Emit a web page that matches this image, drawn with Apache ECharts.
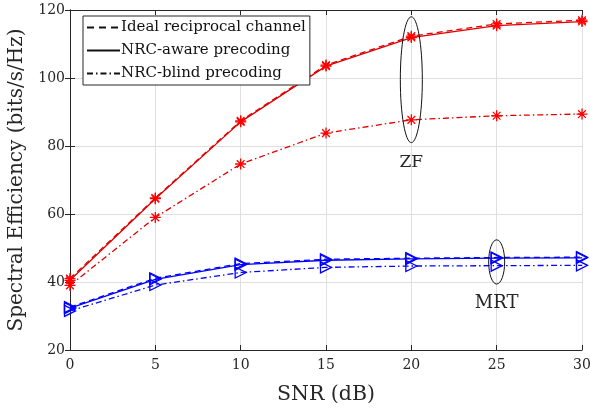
<!DOCTYPE html>
<html><head><meta charset="utf-8">
<script src="https://cdn.jsdelivr.net/npm/echarts@6/dist/echarts.min.js"></script>
<style>html,body{margin:0;padding:0;background:#fff}#c{width:590px;height:409px}</style>
</head><body><div id="c"></div>
<script>
const snr = [0, 5, 10, 15, 20, 25, 30];
const zfIdeal = [41.0, 64.7, 87.4, 103.8, 112.3, 115.9, 117.0];
const zfAware = [40.5, 64.5, 87.1, 103.5, 111.9, 115.4, 116.6];
const zfBlind = [39.0, 59.0, 74.7, 83.8, 87.7, 88.9, 89.4];
const mrtIdeal = [32.6, 41.1, 45.4, 46.7, 47.0, 47.2, 47.3];
const mrtAware = [32.3, 40.8, 45.1, 46.4, 46.8, 47.0, 47.1];
const mrtBlind = [31.5, 39.1, 42.8, 44.3, 44.7, 44.8, 44.9];
const xTicks = [0, 5, 10, 15, 20, 25, 30];
const yTicks = [20, 40, 60, 80, 100, 120];
const legendNames = ['Ideal reciprocal channel', 'NRC-aware precoding', 'NRC-blind precoding'];

const FONT = '"DejaVu Serif", "Liberation Serif", serif';
const RED = '#ff0000', REDL = '#e00000', BLUE = '#0000ff';
const DASH = [6, 4];
const DASHDOT = [6, 3, 1.5, 3];
const star = 'path://M0,-5L0,5M-5,0L5,0M-3.5,-3.5L3.5,3.5M-3.5,3.5L3.5,-3.5';
const tri = 'path://M0,0L9,5L0,10Z';

function pairs(ys) { return snr.map((x, i) => [x, ys[i]]); }
function mk(name, ys, col, lcol, type, sym, size) {
  return {
    type: 'line', name: name, data: pairs(ys), symbol: sym, symbolSize: size,
    showSymbol: true, silent: true, animation: false,
    lineStyle: { color: lcol, width: 1.3, type: type },
    itemStyle: { color: 'none', borderColor: col, borderWidth: 1.3 },
    z: 3
  };
}

const chart = echarts.init(document.getElementById('c'), null, { renderer: 'canvas' });
const axCommon = {
  axisLine: { show: true, lineStyle: { color: '#262626', width: 1 } },
  axisTick: { show: true, inside: true, length: 5, lineStyle: { color: '#262626' } },
};
chart.setOption({
  animation: false,
  backgroundColor: '#fff',
  grid: { left: 70, right: 8, top: 10, bottom: 59, containLabel: false, outerBoundsMode: 'none' },
  legend: {
    data: legendNames.map(n => ({ name: n, itemStyle: { opacity: 0 } })),
    orient: 'vertical', left: 83, top: 16,
    itemWidth: 33, itemHeight: 12, itemGap: 8,
    padding: [4, 4, 4, 3],
    backgroundColor: '#fff', borderColor: '#262626', borderWidth: 1, borderRadius: 0,
    textStyle: { fontFamily: FONT, fontSize: 15, color: '#111', padding: [0, 0, 0, -4] },
    selectedMode: false
  },
  xAxis: [
    Object.assign({ type: 'value', min: 0, max: 30, interval: 5, position: 'bottom',
      name: 'SNR (dB)', nameLocation: 'middle', nameGap: 34,
      nameTextStyle: { fontFamily: FONT, fontSize: 20.5, color: '#262626' },
      axisLabel: { fontFamily: FONT, fontSize: 14, color: '#262626', margin: 8 },
      splitLine: { show: true, lineStyle: { color: '#dfdfdf', width: 1 } } }, axCommon),
    Object.assign({ type: 'value', min: 0, max: 30, interval: 5, position: 'top',
      axisLabel: { show: false }, splitLine: { show: false } }, axCommon)
  ],
  yAxis: [
    Object.assign({ type: 'value', min: 20, max: 120, interval: 20, position: 'left',
      name: 'Spectral Efficiency (bits/s/Hz)', nameLocation: 'middle', nameGap: 43,
      nameTextStyle: { fontFamily: FONT, fontSize: 20, color: '#262626' },
      axisLabel: { fontFamily: FONT, fontSize: 14, color: '#262626', margin: 5 },
      splitLine: { show: true, lineStyle: { color: '#dfdfdf', width: 1 } } }, axCommon),
    Object.assign({ type: 'value', min: 20, max: 120, interval: 20, position: 'right',
      axisLabel: { show: false }, splitLine: { show: false } }, axCommon)
  ],
  series: [
    { type: 'line', name: legendNames[0], data: [], symbol: 'none', lineStyle: { color: '#111', width: 1.2, type: [7, 5] }, itemStyle: { color: '#111' } },
    { type: 'line', name: legendNames[1], data: [], symbol: 'none', lineStyle: { color: '#111', width: 1.2, type: 'solid' }, itemStyle: { color: '#111' } },
    { type: 'line', name: legendNames[2], data: [], symbol: 'none', lineStyle: { color: '#111', width: 1.2, type: DASHDOT }, itemStyle: { color: '#111' } },
    mk('zfIdeal', zfIdeal, RED, REDL, DASH, star, 11),
    mk('zfAware', zfAware, RED, REDL, 'solid', star, 11),
    mk('zfBlind', zfBlind, RED, REDL, DASHDOT, star, 11),
    mk('mrtIdeal', mrtIdeal, BLUE, BLUE, DASH, tri, 11),
    mk('mrtAware', mrtAware, BLUE, BLUE, 'solid', tri, 11),
    mk('mrtBlind', mrtBlind, BLUE, BLUE, DASHDOT, tri, 11)
  ]
});

function px(x, y) { return chart.convertToPixel({ xAxisIndex: 0, yAxisIndex: 0 }, [x, y]); }
const zfC = px(20, 99.5), zfT = px(20, 118), mrtC = px(25, 45.9), mrtT = px(25, 52.4);
const zfLab = px(20, 75.0), mrtLab = px(25, 33.8);
chart.setOption({
  graphic: [
    { type: 'ellipse', shape: { cx: zfC[0], cy: zfC[1], rx: 11, ry: zfC[1] - zfT[1] }, style: { fill: 'none', stroke: '#111', lineWidth: 1 }, z: 10 },
    { type: 'ellipse', shape: { cx: mrtC[0], cy: mrtC[1], rx: 8, ry: mrtC[1] - mrtT[1] }, style: { fill: 'none', stroke: '#111', lineWidth: 1 }, z: 10 },
    { type: 'text', x: zfLab[0], y: zfLab[1], style: { text: 'ZF', font: '17px ' + FONT, fill: '#262626', align: 'center', verticalAlign: 'middle' }, z: 10 },
    { type: 'text', x: mrtLab[0], y: mrtLab[1], style: { text: 'MRT', font: '18px ' + FONT, fill: '#262626', align: 'center', verticalAlign: 'middle' }, z: 10 }
  ]
});
</script></body></html>
